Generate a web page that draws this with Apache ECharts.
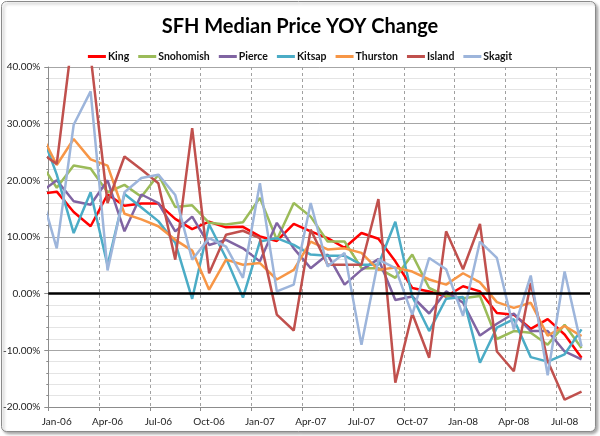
<!DOCTYPE html>
<html>
<head>
<meta charset="utf-8">
<script src="https://cdn.jsdelivr.net/npm/echarts@6/dist/echarts.min.js"></script>
<style>html,body{margin:0;padding:0;background:#fff}#c{width:600px;height:436px}</style>
</head>
<body>
<div id="c"></div>
<script>
// Month labels (first entry Dec-05 is only a clipped lead-in point)
const months = ['Dec-05','Jan-06','Feb-06','Mar-06','Apr-06','May-06','Jun-06','Jul-06','Aug-06','Sep-06','Oct-06','Nov-06','Dec-06',
  'Jan-07','Feb-07','Mar-07','Apr-07','May-07','Jun-07','Jul-07','Aug-07','Sep-07','Oct-07','Nov-07','Dec-07',
  'Jan-08','Feb-08','Mar-08','Apr-08','May-08','Jun-08','Jul-08','Aug-08'];
const yTicks = [-20, -10, 0, 10, 20, 30, 40];

const king      = [17.6, 18.0, 14.4, 11.9, 17.5, 15.5, 15.9, 15.9, 13.2, 11.4, 12.7, 11.7, 11.8, 10.1, 9.3, 12.3, 11.0, 9.8, 8.1, 10.7, 9.7, 5.7, 1.0, 0.4, -0.5, 1.3, 0.4, -3.4, -3.7, -6.2, -4.5, -7.2, -11.3];
const snohomish = [23.3, 18.7, 22.6, 22.1, 17.9, 19.2, 17.1, 21.0, 15.3, 15.6, 12.5, 12.2, 12.6, 16.9, 9.5, 16.0, 13.6, 9.2, 9.2, 4.5, 4.5, 2.8, 6.9, 1.0, -0.4, -0.8, -0.4, -8.0, -6.6, -6.9, -9.0, -5.5, -9.6];
const pierce    = [17.8, 20.0, 16.3, 15.7, 20.0, 11.0, 17.5, 16.0, 11.0, 13.6, 8.6, 9.5, 8.0, 5.7, 12.5, 8.0, 4.5, 6.9, 1.6, 4.2, 6.1, -1.1, -0.5, -3.5, 0.4, -1.6, -7.4, -5.3, -3.5, -6.6, -6.6, -10.2, -11.6];
const kitsap    = [29.2, 21.0, 10.7, 17.9, 5.0, 17.6, 15.2, 12.8, 9.0, -0.9, 12.2, 6.3, -0.7, 9.2, 9.8, 8.6, 6.9, 6.7, 6.7, 5.1, 5.1, 12.7, -0.5, -6.6, -0.9, -0.6, -12.2, -6.0, -4.5, -11.2, -12.0, -10.7, -6.3];
const thurston  = [28.7, 22.7, 27.3, 23.7, 22.6, 14.1, 13.1, 11.9, 9.5, 7.6, 0.7, 6.0, 5.1, 5.4, 2.5, 4.2, 9.2, 7.8, 8.0, 7.2, 4.2, 4.6, 3.9, 2.5, 1.6, 3.6, 2.0, -1.5, -2.5, -1.6, -7.4, -5.7, -7.5];
const island    = [24.9, 22.9, 47.0, 42.0, 16.0, 24.2, 21.9, 19.5, 6.0, 29.2, 3.6, 10.4, 11.1, 9.8, -3.7, -6.5, 11.3, 5.1, 5.1, 5.1, 16.7, -15.7, -3.5, -11.3, 11.0, 4.3, 12.3, -10.2, -13.7, 1.9, -11.9, -18.7, -17.3];
const skagit    = [18.4, 8.0, 29.8, 35.7, 4.1, 17.9, 20.4, 21.0, 17.4, 6.0, 9.8, 8.3, 2.8, 19.5, 0.4, 1.6, 16.0, 4.8, 7.2, -9.0, 6.0, 4.5, -3.7, 6.3, 4.3, -3.9, 9.2, 6.3, -6.3, 3.2, -14.4, 3.9, -9.3];

const seriesDefs = [
  ['King', king, '#FF0000'],
  ['Snohomish', snohomish, '#9BBB59'],
  ['Pierce', pierce, '#8064A2'],
  ['Kitsap', kitsap, '#4BACC6'],
  ['Thurston', thurston, '#F79646'],
  ['Island', island, '#C0504D'],
  ['Skagit', skagit, '#9DB5DB']
];

const FONT = 'Lato, "Liberation Sans", sans-serif';
const chart = echarts.init(document.getElementById('c'), null, {renderer: 'canvas'});

const series = seriesDefs.map(([name, vals, color], k) => {
  const s = {
    name, type: 'line', xAxisIndex: 1, yAxisIndex: 0,
    data: vals.map((v, i) => [i - 1, v]),
    symbol: 'none', clip: true, color,
    lineStyle: {width: 2.5, color},
    emphasis: {disabled: true}, animation: false
  };
  if (k === 0) {
    s.markLine = {
      silent: true, symbol: ['none', 'none'], animation: false,
      label: {show: false},
      lineStyle: {color: '#000', width: 2.5, type: 'solid'},
      data: [{yAxis: 0}]
    };
  }
  return s;
});

chart.setOption({
  animation: false,
  backgroundColor: 'transparent',
  graphic: [{
    type: 'rect', z: -10, silent: true,
    shape: {x: 1.5, y: 1.5, width: 594, height: 430, r: 5},
    style: {fill: '#fff', stroke: '#8a8a8a', lineWidth: 1,
      shadowBlur: 3, shadowOffsetX: 2, shadowOffsetY: 2, shadowColor: 'rgba(0,0,0,0.35)'}
  }],
  title: {
    text: 'SFH Median Price YOY Change', left: 'center', top: 12,
    textStyle: {fontFamily: FONT, fontSize: 20, fontWeight: 'bold', color: '#000'}
  },
  legend: {
    top: 46, left: 'center', icon: 'rect', itemWidth: 18, itemHeight: 3, itemGap: 9,
    textStyle: {fontFamily: FONT, fontSize: 10.5, fontWeight: 'bold', color: '#111', padding: [0, 0, 0, -3]},
    data: seriesDefs.map(d => d[0])
  },
  grid: {left: 48, right: 10, top: 67, bottom: 29},
  xAxis: [{
    type: 'category', data: months.slice(1), boundaryGap: true,
    axisLine: {show: true, onZero: false, lineStyle: {color: '#8c8c8c', width: 1}},
    axisTick: {show: true, interval: 2, length: 4, lineStyle: {color: '#8c8c8c'}},
    axisLabel: {interval: 2, margin: 10, fontFamily: FONT, fontSize: 10, color: '#222'},
    splitLine: {show: true, interval: 2, lineStyle: {color: '#a0a0a0', type: [3, 3], width: 1}}
  }, {
    type: 'value', min: -0.5, max: 31.5, show: false,
    splitLine: {show: false}, axisLine: {show: false}, axisTick: {show: false}, axisLabel: {show: false}
  }],
  yAxis: [{
    type: 'value', min: yTicks[0], max: yTicks[yTicks.length - 1], interval: 10,
    axisLine: {show: true, onZero: false, lineStyle: {color: '#8c8c8c'}},
    axisTick: {show: true, length: 4, lineStyle: {color: '#8c8c8c'}},
    minorTick: {show: true, splitNumber: 5, length: 2, lineStyle: {color: '#8c8c8c'}},
    axisLabel: {margin: 8, fontFamily: FONT, fontSize: 10, color: '#222',
      formatter: v => v.toFixed(2) + '%'},
    splitLine: {show: true, lineStyle: {color: '#a6a6a6', width: 1}},
    minorSplitLine: {show: true, lineStyle: {color: '#e4e4e4', width: 1}}
  }],
  series
});
</script>
</body>
</html>
